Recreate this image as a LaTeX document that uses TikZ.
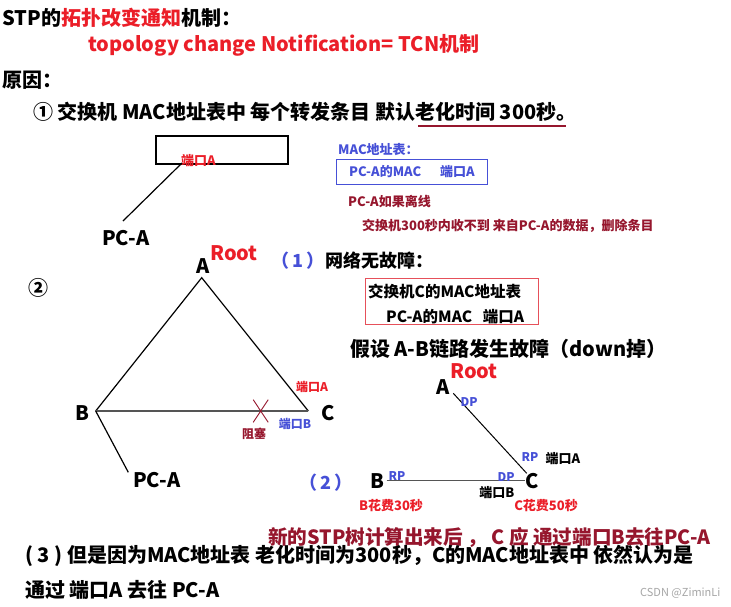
\documentclass[tikz,border=0pt]{standalone}
\usepackage{fontspec}
\setmainfont{Noto Sans CJK SC}
\definecolor{tred}{RGB}{235,30,40}
\definecolor{dred}{RGB}{150,22,45}
\definecolor{tblue}{RGB}{70,80,215}
\definecolor{lred}{RGB}{230,80,90}
\definecolor{lgray}{RGB}{85,85,85}
\newcommand\myfs[1]{\fontsize{#1}{#1}\selectfont\bfseries}
\tikzset{
  tx/.style={anchor=west, inner sep=0pt, font=\myfs{20}},
  big/.style={inner sep=0pt, font=\myfs{20}},
  sm/.style={inner sep=0pt, font=\myfs{13}},
  xs/.style={inner sep=0pt, font=\myfs{12}},
  wire/.style={draw=black, line width=1.2pt},
  gwire/.style={draw=lgray, line width=1.5pt},
}
\begin{document}
\begin{tikzpicture}[x=1pt,y=-1pt]
\useasboundingbox[fill=white] (0,0) rectangle (731,606);
% header
\node[tx] (title) at (2,18) {STP的\textcolor{tred}{拓扑改变通知}机制：};
\node[tx, text=tred] (tcn) at (88,45) {topology change Notification= TCN机制};
\node[tx] (reason) at (2,80) {原因：};
\node[tx] (l1) at (33,112) {① 交换机 MAC地址表中 每个转发条目 默认老化时间 300秒。};
\coordinate (u1) at (418,126);
\coordinate (u2) at (566,126);
\draw[dred, line width=1.2pt] (u1) -- (u2);
% switch box
\node[draw, line width=1.5pt, minimum width=132, minimum height=28, anchor=north west, inner sep=0pt] (sw) at (155,135) {};
\node[sm, anchor=west, text=tred] (pa1) at (181,161) {端口A};
\node[tx] (pc1) at (102,238) {PC-A};
\coordinate (s1) at (182,163);
\coordinate (s2) at (123,221);
\draw[wire] (s1) -- (s2);
% MAC table
\node[sm, anchor=west, text=tblue] (mact) at (338,150) {MAC地址表：};
\node[draw=tblue, line width=1pt, minimum width=151, minimum height=25, anchor=north west, inner sep=0pt, font=\myfs{13}, text=tblue] (macbox) at (336,159) {PC-A的MAC\quad\ \ 端口A};
\node[sm, anchor=west, text=dred] (off) at (348,202) {PC-A如果离线};
\node[sm, anchor=west, text=dred] (del) at (362,226) {交换机300秒内收不到 来自PC-A的数据，删除条目};
% triangle
\node[big] (n2) at (38,288) {②};
\coordinate (tA) at (201.7,277.7);
\coordinate (tB) at (95.7,411);
\coordinate (tC) at (308.3,411);
\coordinate (tP) at (128.3,472.3);
\draw[wire] (tB) -- (tA) -- (tC);
\draw[gwire] (tB) -- (tC);
\draw[wire] (tB) -- (tP);
\node[big] (la) at (203,266) {A};
\node[tx, text=tred] (root1) at (210,253) {Root};
\node[big] (lb) at (82,413) {B};
\node[big] (lc) at (328,413) {C};
\node[tx] (pc2) at (133,480) {PC-A};
\coordinate (x1) at (253.2,399.7);
\coordinate (x2) at (268.2,422.3);
\coordinate (x3) at (268.2,399.7);
\coordinate (x4) at (253.2,422.3);
\draw[dred, line width=0.9pt] (x1) -- (x2) (x3) -- (x4);
\node[xs, text=dred] (blk) at (254,434) {阻塞};
\node[xs, text=tred] (pa2) at (312,387) {端口A};
\node[xs, text=tblue] (pb2) at (295,424) {端口B};
% (1)
\node[anchor=west, inner sep=0pt, font=\myfs{18}, text=tblue] (s1l) at (271,261) {（\,1\,）};
\node[anchor=west, inner sep=0pt, font=\myfs{18}] (s1t) at (325,261) {网络无故障：};
\node[draw=lred, line width=1pt, minimum width=173, minimum height=46, anchor=north west, inner sep=0pt] (cbox) at (365,278) {};
\node[anchor=west, inner sep=0pt, font=\myfs{15.5}] (ct1) at (368,292) {交换机C的MAC地址表};
\node[anchor=west, inner sep=0pt, font=\myfs{15.5}] (ct2) at (386,317) {PC-A的MAC\ \ \ 端口A};
\node[anchor=west, inner sep=0pt, font=\myfs{20}] (fail) at (350,349) {假设 A-B链路发生故障（down掉）};
% (2)
\coordinate (dA) at (453.3,393.3);
\coordinate (dC) at (526.7,473.3);
\coordinate (dB) at (386.7,480.7);
\coordinate (dC2) at (525,480.7);
\draw[line width=1pt] (dA) -- (dC);
\draw[draw=lgray, line width=1.3pt] (dB) -- (dC2);
\node[tx, text=tred] (root2) at (450,371) {Root};
\node[big] (la2) at (443,387) {A};
\node[xs, text=tblue] (dp1) at (469,402) {DP};
\node[xs, text=tblue] (rp1) at (530,457) {RP};
\node[sm] (pa3) at (563,459) {端口A};
\node[big] (lb2) at (377,481) {B};
\node[big] (lc2) at (532,481) {C};
\node[xs, text=tblue] (rp2) at (397,476) {RP};
\node[xs, text=tblue] (dp2) at (506,477) {DP};
\node[sm] (pb3) at (497,493) {端口B};
\node[sm, text=tred] (bc) at (391,506) {B花费30秒};
\node[sm, text=tred] (cc) at (546,506) {C花费50秒};
\node[inner sep=0pt, font=\myfs{18}, text=tblue] (s2l) at (326,483) {（\,2\,）};
% bottom
\node[anchor=west, inner sep=0pt, font=\myfs{19.6}, text=dred] (newt) at (268,537) {新的STP树计算出来后 ， C 应 通过端口B去往PC-A};
\node[tx] (l3) at (25,556) {( 3 ) 但是因为MAC地址表 老化时间为300秒，C的MAC地址表中 依然认为是};
\node[tx] (l4) at (25,590) {通过 端口A 去往 PC-A};
\node[anchor=west, inner sep=0pt, font=\fontsize{11}{11}\selectfont, text=black!35] (wm) at (640,593) {CSDN @ZiminLi};
\end{tikzpicture}
\end{document}
